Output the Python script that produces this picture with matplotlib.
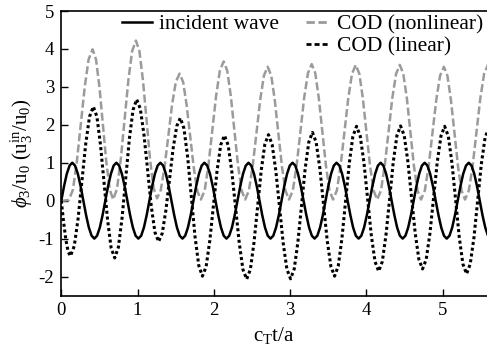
import matplotlib
matplotlib.use("Agg")
import matplotlib.pyplot as plt
from matplotlib.lines import Line2D

plt.rcParams['font.family'] = ['Liberation Serif', 'DejaVu Serif']
plt.rcParams['mathtext.fontset'] = 'custom'
plt.rcParams['mathtext.rm'] = 'Liberation Serif'
plt.rcParams['mathtext.it'] = 'Liberation Serif:italic'
plt.rcParams['axes.unicode_minus'] = False

# ---------------- data ----------------
t_incident = [
    0.000, 0.036, 0.072, 0.108, 0.144, 0.180, 0.217, 0.253, 0.289, 0.325, 0.361, 0.397, 0.433, 0.469, 0.505, 0.541,
    0.577, 0.613, 0.650, 0.686, 0.722, 0.758, 0.794, 0.830, 0.866, 0.902, 0.938, 0.974, 1.010, 1.047, 1.083, 1.119,
    1.155, 1.191, 1.227, 1.263, 1.299, 1.335, 1.371, 1.407, 1.443, 1.480, 1.516, 1.552, 1.588, 1.624, 1.660, 1.696,
    1.732, 1.768, 1.804, 1.840, 1.876, 1.913, 1.949, 1.985, 2.021, 2.057, 2.093, 2.129, 2.165, 2.201, 2.237, 2.273,
    2.309, 2.346, 2.382, 2.418, 2.454, 2.490, 2.526, 2.562, 2.598, 2.634, 2.670, 2.706, 2.742, 2.779, 2.815, 2.851,
    2.887, 2.923, 2.959, 2.995, 3.031, 3.067, 3.103, 3.139, 3.175, 3.212, 3.248, 3.284, 3.320, 3.356, 3.392, 3.428,
    3.464, 3.500, 3.536, 3.572, 3.608, 3.645, 3.681, 3.717, 3.753, 3.789, 3.825, 3.861, 3.897, 3.933, 3.969, 4.005,
    4.041, 4.078, 4.114, 4.150, 4.186, 4.222, 4.258, 4.294, 4.330, 4.366, 4.402, 4.438, 4.475, 4.511, 4.547, 4.583,
    4.619, 4.655, 4.691, 4.727, 4.763, 4.799, 4.835, 4.871, 4.908, 4.944, 4.980, 5.016, 5.052, 5.088, 5.124, 5.160,
    5.196, 5.232, 5.268, 5.305, 5.341, 5.377, 5.413, 5.449, 5.485, 5.521, 5.557, 5.593, 5.629]
v_incident = [
    0, 0.383, 0.707, 0.924, 1, 0.924, 0.707, 0.383, 0, -0.383, -0.707, -0.924, -1, -0.924, -0.707, -0.383,
    0, 0.383, 0.707, 0.924, 1, 0.924, 0.707, 0.383, 0, -0.383, -0.707, -0.924, -1, -0.924, -0.707, -0.383,
    0, 0.383, 0.707, 0.924, 1, 0.924, 0.707, 0.383, 0, -0.383, -0.707, -0.924, -1, -0.924, -0.707, -0.383,
    0, 0.383, 0.707, 0.924, 1, 0.924, 0.707, 0.383, 0, -0.383, -0.707, -0.924, -1, -0.924, -0.707, -0.383,
    0, 0.383, 0.707, 0.924, 1, 0.924, 0.707, 0.383, 0, -0.383, -0.707, -0.924, -1, -0.924, -0.707, -0.383,
    0, 0.383, 0.707, 0.924, 1, 0.924, 0.707, 0.383, 0, -0.383, -0.707, -0.924, -1, -0.924, -0.707, -0.383,
    0, 0.383, 0.707, 0.924, 1, 0.924, 0.707, 0.383, 0, -0.383, -0.707, -0.924, -1, -0.924, -0.707, -0.383,
    0, 0.383, 0.707, 0.924, 1, 0.924, 0.707, 0.383, 0, -0.383, -0.707, -0.924, -1, -0.924, -0.707, -0.383,
    0, 0.383, 0.707, 0.924, 1, 0.924, 0.707, 0.383, 0, -0.383, -0.707, -0.924, -1, -0.924, -0.707, -0.383,
    0, 0.383, 0.707, 0.924, 1, 0.924, 0.707, 0.383, 0, -0.383, -0.707, -0.924, -1]

t_nonlinear = [
    0, 0.05, 0.10,
    0.152, 0.203, 0.255, 0.307, 0.358, 0.41,
    0.455, 0.50, 0.545, 0.59, 0.635, 0.68,
    0.730, 0.779, 0.829, 0.879, 0.928, 0.978,
    1.024, 1.070, 1.117, 1.163, 1.209, 1.255,
    1.304, 1.353, 1.403, 1.452, 1.501, 1.55,
    1.597, 1.643, 1.69, 1.737, 1.783, 1.83,
    1.880, 1.929, 1.979, 2.029, 2.078, 2.128,
    2.175, 2.222, 2.269, 2.316, 2.363, 2.41,
    2.459, 2.508, 2.558, 2.607, 2.656, 2.705,
    2.752, 2.798, 2.845, 2.892, 2.938, 2.985,
    3.035, 3.084, 3.134, 3.183, 3.233, 3.282,
    3.329, 3.375, 3.422, 3.469, 3.515, 3.562,
    3.612, 3.661, 3.711, 3.761, 3.810, 3.86,
    3.907, 3.953, 4.0, 4.047, 4.093, 4.14,
    4.190, 4.239, 4.289, 4.338, 4.388, 4.437,
    4.483, 4.530, 4.576, 4.622, 4.669, 4.715,
    4.765, 4.815, 4.865, 4.915, 4.965, 5.015,
    5.061, 5.107, 5.154, 5.200, 5.246, 5.292,
    5.342, 5.392, 5.442, 5.492, 5.542, 5.592]
v_nonlinear = [
    0, 0.005, 0.02,
    0.286, 1.013, 2.005, 2.998, 3.724, 3.99,
    3.725, 3.00, 2.01, 1.02, 0.295, 0.03,
    0.311, 1.078, 2.125, 3.173, 3.939, 4.22,
    3.941, 3.18, 2.14, 1.10, 0.339, 0.06,
    0.28, 0.883, 1.705, 2.528, 3.13, 3.35,
    3.128, 2.52, 1.69, 0.86, 0.252, 0.03,
    0.274, 0.94, 1.85, 2.76, 3.426, 3.67,
    3.426, 2.76, 1.85, 0.94, 0.274, 0.03,
    0.265, 0.905, 1.78, 2.655, 3.296, 3.53,
    3.296, 2.655, 1.78, 0.905, 0.265, 0.03,
    0.269, 0.923, 1.815, 2.708, 3.361, 3.60,
    3.361, 2.708, 1.815, 0.923, 0.269, 0.03,
    0.268, 0.918, 1.805, 2.693, 3.342, 3.58,
    3.342, 2.693, 1.805, 0.918, 0.268, 0.03,
    0.268, 0.918, 1.805, 2.693, 3.342, 3.58,
    3.342, 2.693, 1.805, 0.918, 0.268, 0.03,
    0.265, 0.905, 1.78, 2.655, 3.296, 3.53,
    3.296, 2.655, 1.78, 0.905, 0.265, 0.03,
    0.268, 0.918, 1.805, 2.693, 3.342, 3.58]

t_linear = [
    0, 0.03, 0.06, 0.09, 0.12,
    0.17, 0.22, 0.27, 0.32, 0.37, 0.42,
    0.467, 0.513, 0.56, 0.607, 0.653, 0.70,
    0.748, 0.796, 0.844, 0.892, 0.940, 0.988,
    1.036, 1.084, 1.132, 1.179, 1.227, 1.275,
    1.323, 1.37, 1.418, 1.465, 1.513, 1.56,
    1.608, 1.657, 1.705, 1.753, 1.802, 1.85,
    1.898, 1.946, 1.994, 2.042, 2.090, 2.138,
    2.187, 2.235, 2.284, 2.333, 2.381, 2.43,
    2.478, 2.525, 2.573, 2.62, 2.668, 2.715,
    2.763, 2.812, 2.86, 2.908, 2.957, 3.005,
    3.053, 3.101, 3.149, 3.196, 3.244, 3.292,
    3.340, 3.389, 3.437, 3.485, 3.534, 3.582,
    3.630, 3.678, 3.726, 3.774, 3.822, 3.870,
    3.918, 3.967, 4.015, 4.063, 4.112, 4.160,
    4.208, 4.256, 4.304, 4.351, 4.399, 4.447,
    4.495, 4.543, 4.591, 4.639, 4.687, 4.735,
    4.783, 4.832, 4.88, 4.928, 4.977, 5.025,
    5.073, 5.121, 5.169, 5.216, 5.264, 5.312,
    5.360, 5.409, 5.457, 5.505, 5.554, 5.602]
v_linear = [
    0, -0.559, -1.032, -1.349, -1.46,
    -1.196, -0.475, 0.51, 1.495, 2.216, 2.48,
    2.213, 1.482, 0.485, -0.513, -1.243, -1.51,
    -1.230, -0.465, 0.58, 1.625, 2.390, 2.67,
    2.419, 1.732, 0.795, -0.143, -0.829, -1.08,
    -0.862, -0.265, 0.55, 1.365, 1.962, 2.18,
    1.901, 1.137, 0.095, -0.948, -1.711, -1.99,
    -1.741, -1.062, -0.135, 0.793, 1.471, 1.72,
    1.466, 0.772, -0.175, -1.123, -1.816, -2.07,
    -1.815, -1.117, -0.165, 0.788, 1.485, 1.74,
    1.485, 0.79, -0.16, -1.11, -1.805, -2.06,
    -1.801, -1.095, -0.13, 0.835, 1.541, 1.80,
    1.546, 0.852, -0.095, -1.043, -1.736, -1.99,
    -1.725, -1.002, -0.015, 0.973, 1.695, 1.96,
    1.704, 1.005, 0.05, -0.905, -1.604, -1.86,
    -1.603, -0.902, 0.055, 1.013, 1.713, 1.97,
    1.717, 1.027, 0.085, -0.858, -1.547, -1.80,
    -1.548, -0.86, 0.08, 1.02, 1.708, 1.96,
    1.699, 0.987, 0.015, -0.958, -1.669, -1.93,
    -1.673, -0.97, -0.01, 0.95, 1.653, 1.91]

x_ticks = [0, 1, 2, 3, 4, 5]
y_ticks = [-2, -1, 0, 1, 2, 3, 4, 5]
labels = ['incident wave', 'COD (nonlinear)', 'COD (linear)']

# ---------------- figure ----------------
W, H = 487, 349
fig = plt.figure(figsize=(W / 100, H / 100), dpi=100)
ax = fig.add_axes([61.3 / W, 1 - 295.5 / H, (W - 61.3) / W, (295.5 - 11) / H])

gray = '#9b9b9b'
ax.plot(t_nonlinear, v_nonlinear, color=gray, lw=1.8, dashes=(3.2, 1.3))
ax.plot(t_linear, v_linear, color='black', lw=2.2, dashes=(1.0, 0.9))
ax.plot(t_incident, v_incident, color='black', lw=1.8, solid_capstyle='butt')

ax.set_xlim(0, 5.58)
ax.set_ylim(-2.5, 5)
ax.set_xticks(x_ticks)
ax.set_yticks(y_ticks)
ax.tick_params(direction='in', length=5, width=1, labelsize=13.5, pad=5)
ax.spines['right'].set_visible(False)
for s in ['left', 'bottom', 'top']:
    ax.spines[s].set_linewidth(1.2)

ax.set_xlabel(r'c$_{\mathrm{T}}$t/a', fontsize=15, labelpad=4)
ax.set_ylabel(r'$\phi_{3}$/u$_{0}$ (u$_{3}^{\mathrm{in}}$/u$_{0}$)', fontsize=15, labelpad=3)

# legends
h_inc = Line2D([], [], color='black', lw=1.8)
h_nl = Line2D([], [], color=gray, lw=2.0, dashes=(3.0, 1.3))
h_lin = Line2D([], [], color='black', lw=2.0, dashes=(1.8, 1.1))

leg1 = ax.legend([h_inc], labels[:1], loc='upper left',
                 bbox_to_anchor=(122 / W, 1 - 14 / H), bbox_transform=fig.transFigure,
                 frameon=False, borderpad=0, borderaxespad=0, handlelength=1.4,
                 handletextpad=0.3, fontsize=15.5, labelspacing=0)
ax.add_artist(leg1)
ax.legend([h_nl, h_lin], labels[1:], loc='upper left',
          bbox_to_anchor=(306 / W, 1 - 14 / H), bbox_transform=fig.transFigure,
          frameon=False, borderpad=0, borderaxespad=0, handlelength=1.0,
          handletextpad=0.45, fontsize=15.5, labelspacing=0.12)

fig.savefig('out.png', dpi=100)
